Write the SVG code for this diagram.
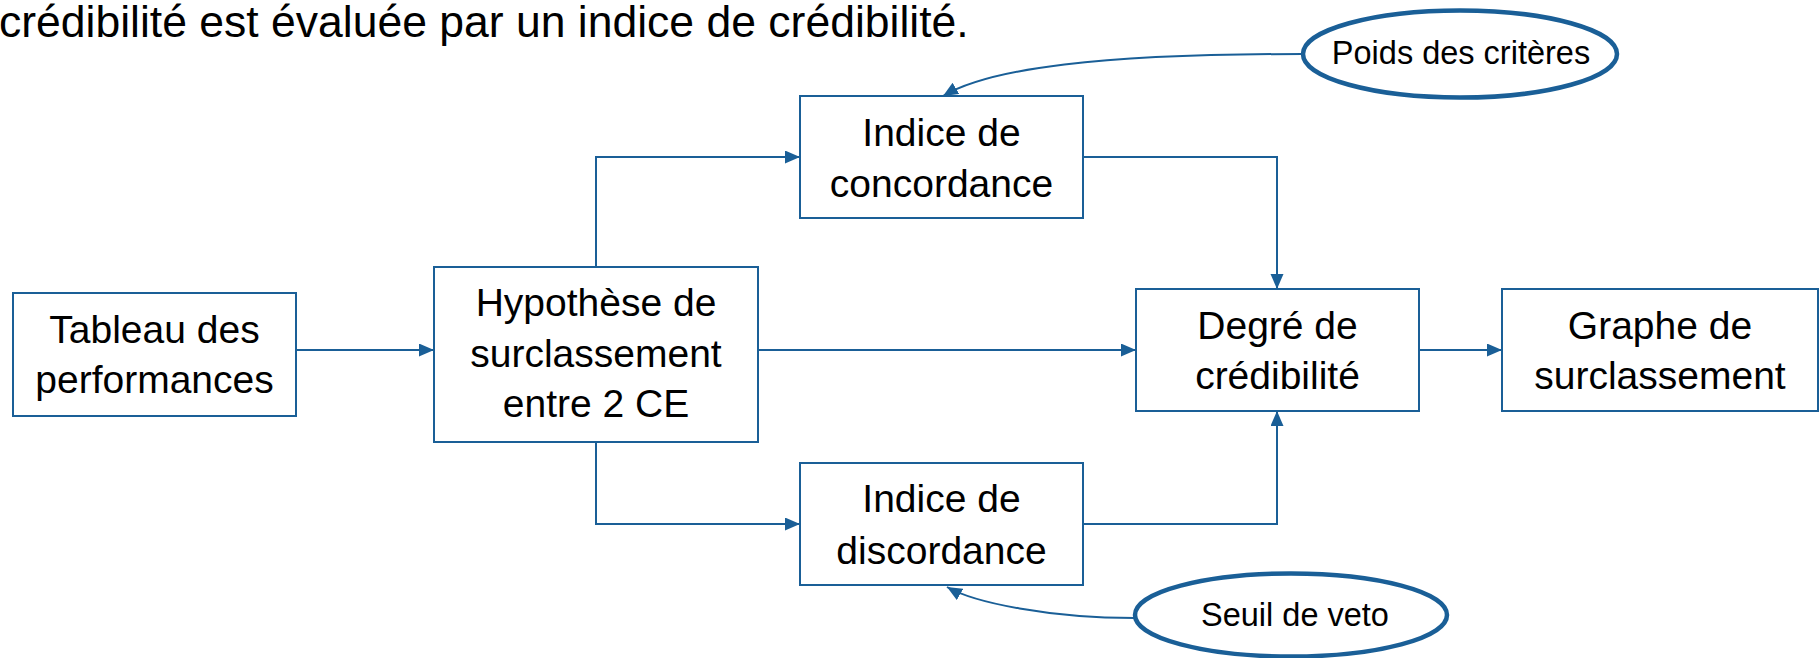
<svg xmlns="http://www.w3.org/2000/svg" width="1820" height="658" viewBox="0 0 1820 658">
<style>
.box{fill:#fff;stroke:#1a5f97;stroke-width:2}
.ell{fill:#fff;stroke:#1a5f97;stroke-width:4.5}
.t{font-family:"Liberation Sans",Arial,sans-serif;font-size:39px;fill:#000;text-anchor:middle}
.ts{font-family:"Liberation Sans",Arial,sans-serif;font-size:32.5px;fill:#000;text-anchor:middle}
.tt{font-family:"Liberation Sans",Arial,sans-serif;font-size:44.5px;fill:#000}
.c{fill:none;stroke:#1a5f97;stroke-width:2}
</style>
<defs>
<marker id="ah" markerUnits="userSpaceOnUse" markerWidth="16" markerHeight="14" refX="15" refY="6.5" orient="auto">
<path d="M0,0 L15,6.5 L0,13 z" fill="#1a5f97"/>
</marker>
</defs>
<rect width="1820" height="658" fill="#fff"/>
<text class="tt" x="-1" y="37">crédibilité est évaluée par un indice de crédibilité.</text>
<g id="connectors">
<path class="c" d="M296,350 H434" marker-end="url(#ah)"/>
<path class="c" d="M596,267 V157 H800" marker-end="url(#ah)"/>
<path class="c" d="M596,442 V524 H800" marker-end="url(#ah)"/>
<path class="c" d="M758,350 H1136" marker-end="url(#ah)"/>
<path class="c" d="M1083,157 H1277 V289" marker-end="url(#ah)"/>
<path class="c" d="M1083,524 H1277 V411" marker-end="url(#ah)"/>
<path class="c" d="M1419,350 H1502" marker-end="url(#ah)"/>
<path class="c" d="M1303,54 C1100,54 990,68 943,96" marker-end="url(#ah)"/>
<path class="c" d="M1135,618 C1050,618 975,603 947,587" marker-end="url(#ah)"/>
</g>
<g id="tableau">
<rect class="box" x="13" y="293" width="283" height="123"/>
<text class="t" x="154.5" y="343">Tableau des</text>
<text class="t" x="154.5" y="393">performances</text>
</g>
<g id="hypothese">
<rect class="box" x="434" y="267" width="324" height="175"/>
<text class="t" x="596" y="316">Hypothèse de</text>
<text class="t" x="596" y="367">surclassement</text>
<text class="t" x="596" y="417">entre 2 CE</text>
</g>
<g id="concordance">
<rect class="box" x="800" y="96" width="283" height="122"/>
<text class="t" x="941.5" y="145.5">Indice de</text>
<text class="t" x="941.5" y="197">concordance</text>
</g>
<g id="discordance">
<rect class="box" x="800" y="463" width="283" height="122"/>
<text class="t" x="941.5" y="512">Indice de</text>
<text class="t" x="941.5" y="563.5">discordance</text>
</g>
<g id="degre">
<rect class="box" x="1136" y="289" width="283" height="122"/>
<text class="t" x="1277.5" y="339">Degré de</text>
<text class="t" x="1277.5" y="389">crédibilité</text>
</g>
<g id="graphe">
<rect class="box" x="1502" y="289" width="316" height="122"/>
<text class="t" x="1660" y="339">Graphe de</text>
<text class="t" x="1660" y="389">surclassement</text>
</g>
<g id="poids">
<ellipse class="ell" cx="1460" cy="54" rx="157" ry="43.5"/>
<text class="ts" x="1461" y="64">Poids des critères</text>
</g>
<g id="seuil">
<ellipse class="ell" cx="1291" cy="615" rx="156" ry="41.5"/>
<text class="ts" x="1295" y="626">Seuil de veto</text>
</g>
</svg>
